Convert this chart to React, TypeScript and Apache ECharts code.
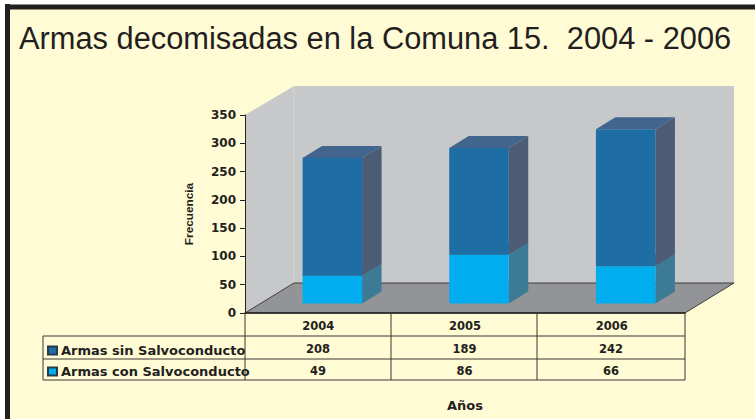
import React, { useEffect, useRef } from "react";
import * as echarts from "echarts";

const years = ["2004", "2005", "2006"];
const sinSalvo = [208, 189, 242];
const conSalvo = [49, 86, 66];
const sinName = "Armas sin Salvoconducto";
const conName = "Armas con Salvoconducto";
const titleText = "Armas decomisadas en la Comuna 15.  2004 - 2006";
const yTicksMax = 350;

const INK = "#231f20";
const BOLD = "DejaVu Sans";
const G = { l: 245, r: 685, t: 115, b: 313 };
const D = { x: 49, y: -30 };
const rowY = [336, 359, 380];
const colX = [245, 391, 537, 685];

function box(colors: { front: string; top: string; side: string }) {
  return (_p: any, api: any) => {
    const i = api.value(0);
    const w = 59.5;
    const c = api.coord([i, 0])[0] + 14;
    const shift = 9.5;
    const y0 = api.coord([i, api.value(1)])[1] - shift;
    const y1 = api.coord([i, api.value(2)])[1] - shift;
    const x0 = c - w / 2;
    const x1 = c + w / 2;
    const dx = 19.5;
    const dy = -12;
    const poly = (points: number[][], fill: string) => ({
      type: "polygon",
      shape: { points },
      style: { fill },
    });
    return {
      type: "group",
      children: [
        poly([[x1, y0], [x1 + dx, y0 + dy], [x1 + dx, y1 + dy], [x1, y1]], colors.side),
        poly([[x0, y1], [x1, y1], [x1 + dx, y1 + dy], [x0 + dx, y1 + dy]], colors.top),
        poly([[x0, y0], [x1, y0], [x1, y1], [x0, y1]], colors.front),
      ],
    };
  };
}

function hline(x1: number, x2: number, y: number, lineWidth = 1) {
  return { type: "line", z: 5, shape: { x1, y1: y, x2, y2: y }, style: { stroke: "#3a3633", lineWidth } };
}
function vline(x: number, y1: number, y2: number) {
  return { type: "line", z: 5, shape: { x1: x, y1, x2: x, y2 }, style: { stroke: "#3a3633", lineWidth: 1 } };
}
function cell(x: number, y: number, text: string | number) {
  return {
    type: "text",
    z: 6,
    x,
    y,
    style: { text: String(text), fill: INK, font: `bold 11.5px "${BOLD}"`, textAlign: "center", textVerticalAlign: "middle" },
  };
}

export default function App() {
  const ref = useRef<HTMLDivElement>(null);
  useEffect(() => {
    document.body.style.margin = "0";
    const chart = echarts.init(ref.current!, undefined, { renderer: "svg" });
    const centers = [318, 464.5, 611];
    const wallFill = "#c7c8ca";
    chart.setOption({
      animation: false,
      backgroundColor: "#ffffff",
      grid: { left: G.l, right: 755 - G.r, top: G.t, bottom: 419 - G.b, containLabel: false },
      title: {
        text: titleText,
        left: 14,
        top: 18,
        textStyle: { fontFamily: "Liberation Sans", fontWeight: "normal", fontSize: 30.8, color: INK },
      },
      legend: {
        orient: "vertical",
        left: 42,
        top: 339,
        itemWidth: 9,
        itemHeight: 8,
        itemGap: 8,
        icon: "rect",
        data: [sinName, conName],
        selectedMode: false,
        textStyle: { fontFamily: BOLD, fontWeight: "bold", fontSize: 13, color: INK, padding: [0, 0, 0, -1] },
      },
      xAxis: {
        type: "category",
        data: years,
        name: "Años",
        nameLocation: "middle",
        nameGap: 86,
        nameTextStyle: { fontFamily: BOLD, fontWeight: "bold", fontSize: 13, color: INK },
        axisLine: { lineStyle: { color: INK, width: 1.5 } },
        axisTick: { show: false },
        axisLabel: { fontFamily: BOLD, fontWeight: "bold", fontSize: 11.5, color: INK, margin: 7 },
        splitLine: { show: false },
      },
      yAxis: {
        type: "value",
        min: 0,
        max: yTicksMax,
        interval: 50,
        name: "Frecuencia",
        nameLocation: "middle",
        nameGap: 50,
        nameTextStyle: { fontFamily: "Liberation Sans", fontWeight: "bold", fontSize: 11.8, color: INK },
        axisLine: { show: true, lineStyle: { color: INK, width: 1 } },
        axisTick: { show: true, length: 5, lineStyle: { color: INK } },
        axisLabel: { fontFamily: BOLD, fontWeight: "bold", fontSize: 12, color: INK, margin: 9, padding: [2, 0, 0, 0] },
        splitLine: { show: false },
      },
      series: [
        {
          name: conName,
          type: "custom",
          coordinateSystem: "cartesian2d",
          renderItem: box({ front: "#00aeef", top: "#3c7a96", side: "#3c7a96" }),
          encode: { x: 0, y: [1, 2] },
          itemStyle: { color: "#00aeef", borderColor: "#2b3a4a", borderWidth: 1 },
          data: conSalvo.map((v, i) => [i, 0, v]),
          z: 3,
        },
        {
          name: sinName,
          type: "custom",
          coordinateSystem: "cartesian2d",
          renderItem: box({ front: "#1f6da5", top: "#41658c", side: "#4c5c74" }),
          encode: { x: 0, y: [1, 2] },
          itemStyle: { color: "#1f6da5", borderColor: "#2b3a4a", borderWidth: 1 },
          data: sinSalvo.map((v, i) => [i, conSalvo[i], conSalvo[i] + v]),
          z: 4,
        },
      ],
      graphic: [
        { type: "rect", z: -5, shape: { x: 0, y: 0, width: 755, height: 419 }, style: { fill: "#ffffff" } },
        { type: "rect", z: -4, shape: { x: 5, y: 4, width: 750, height: 415 }, style: { fill: "#fffbd5" } },
        { type: "rect", z: -3, shape: { x: 5, y: 5, width: 750, height: 4.5 }, style: { fill: INK } },
        { type: "rect", z: -3, shape: { x: 5, y: 4, width: 750, height: 1 }, style: { fill: "#8a8a8c" } },
        { type: "rect", z: -3, shape: { x: 5, y: 4, width: 5, height: 415 }, style: { fill: INK } },
        {
          type: "polygon",
          z: -2,
          shape: { points: [[G.l, G.t], [G.l + D.x, G.t + D.y + 1], [G.r + D.x, G.t + D.y + 1], [G.r + D.x, G.b + D.y], [G.l + D.x, G.b + D.y], [G.l, G.b]] },
          style: { fill: wallFill },
        },
        { type: "line", z: -1, shape: { x1: G.l + D.x, y1: G.t + D.y + 1, x2: G.l + D.x, y2: G.b + D.y }, style: { stroke: "#d4d5d6", lineWidth: 1 } },
        {
          type: "polygon",
          z: -1,
          shape: { points: [[G.l, G.b], [G.r, G.b], [G.r + D.x, G.b + D.y], [G.l + D.x, G.b + D.y]] },
          style: { fill: "#929497", stroke: INK, lineWidth: 0.8 },
        },
        hline(43, G.r, rowY[0]),
        hline(43, G.r, rowY[1]),
        hline(43, G.r, rowY[2]),
        vline(43, rowY[0], rowY[2]),
        ...colX.map((x) => vline(x, G.b, rowY[2])),
        ...centers.map((x, i) => cell(x, 348.5, sinSalvo[i])),
        ...centers.map((x, i) => cell(x, 371, conSalvo[i])),
      ],
    });
    return () => chart.dispose();
  }, []);
  return <div ref={ref} style={{ position: "absolute", left: 0, top: 0, width: 755, height: 419 }} />;
}
